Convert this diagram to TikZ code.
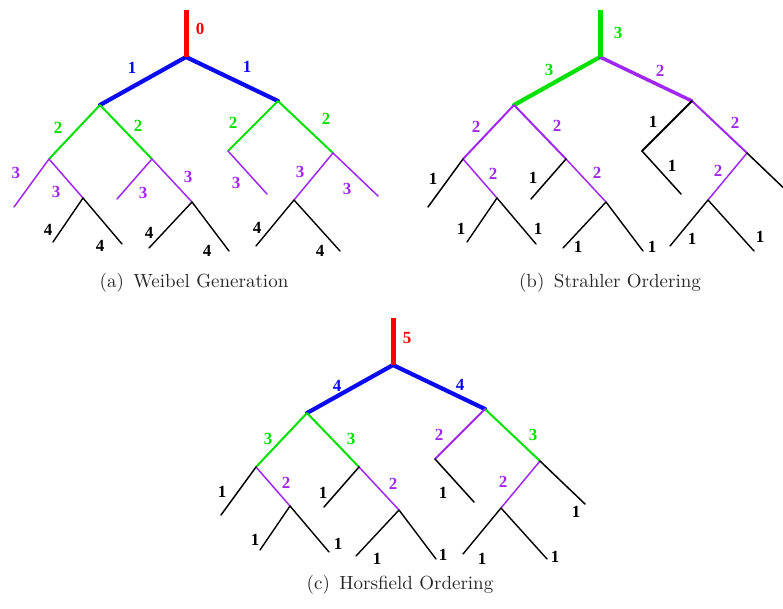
\documentclass[tikz,border=0pt]{standalone}
\usepackage{fontspec}
\newfontfamily\labelfont{Liberation Serif}
\definecolor{tred}{RGB}{255,0,0}
\definecolor{tblue}{RGB}{10,10,240}
\definecolor{tgreen}{RGB}{0,225,0}
\definecolor{tpurple}{RGB}{160,40,240}
\tikzset{
  lv0/.style={line width=5pt},
  lv1/.style={line width=4.2pt, line cap=round},
  lv2/.style={line width=2pt, line cap=round},
  lv3/.style={line width=1.5pt, line cap=round},
  lv4/.style={line width=1.4pt, line cap=round},
  num/.style={font=\labelfont\bfseries\fontsize{17}{17}\selectfont, inner sep=0pt},
  caption/.style={scale=1.9, text=black!85, inner sep=0pt},
}
% branch points of one airway tree; #1 = name prefix, (#2,#3) = offset
\newcommand\treepoints[3]{%
  \begin{scope}[shift={(#2,#3)}]
    \coordinate (#1T) at (186,10);
    \coordinate (#1J) at (186,57);
    \coordinate (#1L) at (100,105);
    \coordinate (#1R) at (278,101);
    \coordinate (#1LL) at (49,159);
    \coordinate (#1LR) at (152,159);
    \coordinate (#1RL) at (228,151);
    \coordinate (#1RR) at (333,153);
    \coordinate (#1LLL) at (14,207);
    \coordinate (#1LLR) at (83,198);
    \coordinate (#1LLRa) at (53,242);
    \coordinate (#1LLRb) at (122,244);
    \coordinate (#1LRL) at (117,199);
    \coordinate (#1LRR) at (192,202);
    \coordinate (#1LRRa) at (149,248);
    \coordinate (#1LRRb) at (229,251);
    \coordinate (#1RLc) at (267,194);
    \coordinate (#1RRL) at (294,200);
    \coordinate (#1RRR) at (378,196);
    \coordinate (#1RRLa) at (256,246);
    \coordinate (#1RRLb) at (340,251);
  \end{scope}}
\begin{document}
\begin{tikzpicture}[x=1pt,y=-1pt]
\useasboundingbox (0,0) rectangle (783,608);
\clip (0,0) rectangle (783,608);

% ---------- (a) Weibel generation ----------
\treepoints{a}{0}{0}
\draw[lv1,tblue] (aJ) -- (aL) (aJ) -- (aR);
\draw[lv0,tred] (aT) -- (aJ);
\draw[lv2,tgreen] (aL) -- (aLL) (aL) -- (aLR) (aR) -- (aRL) (aR) -- (aRR);
\draw[lv3,tpurple] (aLL) -- (aLLL) (aLL) -- (aLLR) (aLR) -- (aLRL) (aLR) -- (aLRR)
  (aRL) -- (aRLc) (aRR) -- (aRRL) (aRR) -- (aRRR);
\draw[lv4,black] (aLLR) -- (aLLRa) (aLLR) -- (aLLRb) (aLRR) -- (aLRRa) (aLRR) -- (aLRRb)
  (aRRL) -- (aRRLa) (aRRL) -- (aRRLb);
\node[num,tred] (a0) at (200,29) {0};
\node[num,tblue] (a1l) at (132,68) {1};
\node[num,tblue] (a1r) at (247,67) {1};
\node[num,tgreen] (a2a) at (58,128) {2};
\node[num,tgreen] (a2b) at (138,126) {2};
\node[num,tgreen] (a2c) at (233,123) {2};
\node[num,tgreen] (a2d) at (326,119) {2};
\node[num,tpurple] (a3a) at (16,173) {3};
\node[num,tpurple] (a3b) at (56,192) {3};
\node[num,tpurple] (a3c) at (143,193) {3};
\node[num,tpurple] (a3d) at (188,177) {3};
\node[num,tpurple] (a3e) at (236,183) {3};
\node[num,tpurple] (a3f) at (300,172) {3};
\node[num,tpurple] (a3g) at (347,189) {3};
\node[num] (a4a) at (48,230) {4};
\node[num] (a4b) at (100,246) {4};
\node[num] (a4c) at (149,233) {4};
\node[num] (a4d) at (207,251) {4};
\node[num] (a4e) at (257,228) {4};
\node[num] (a4f) at (320,251) {4};
\node[caption] (capa) at (194,283) {(a)\enspace Weibel Generation};

% ---------- (b) Strahler ordering ----------
\treepoints{b}{414}{0}
\draw[lv1,tgreen] (bJ) -- (bL);
\draw[lv1,tpurple,line width=3.5pt] (bJ) -- (bR);
\draw[lv0,tgreen] (bT) -- (bJ);
\draw[lv2,tpurple] (bL) -- (bLL) (bL) -- (bLR) (bR) -- (bRR);
\draw[lv2,black] (bR) -- (bRL);
\draw[lv3,tpurple] (bLL) -- (bLLR) (bLR) -- (bLRR) (bRR) -- (bRRL);
\draw[lv3,black] (bLL) -- (bLLL) (bLR) -- (bLRL) (bRL) -- (bRLc) (bRR) -- (bRRR);
\draw[lv4,black] (bLLR) -- (bLLRa) (bLLR) -- (bLLRb) (bLRR) -- (bLRRa) (bLRR) -- (bLRRb)
  (bRRL) -- (bRRLa) (bRRL) -- (bRRLb);
\node[num,tgreen] (b3t) at (618,33) {3};
\node[num,tgreen] (b3l) at (549,70) {3};
\node[num,tpurple] (b2r) at (660,71) {2};
\node[num,tpurple] (b2a) at (476,127) {2};
\node[num,tpurple] (b2b) at (557,126) {2};
\node[num] (b1a) at (653,122) {1};
\node[num,tpurple] (b2c) at (735,123) {2};
\node[num] (b1b) at (433,179) {1};
\node[num,tpurple] (b2d) at (493,174) {2};
\node[num] (b1c) at (533,178) {1};
\node[num,tpurple] (b2e) at (597,173) {2};
\node[num] (b1d) at (672,166) {1};
\node[num,tpurple] (b2f) at (718,171) {2};
\node[num] (b1e) at (461,229) {1};
\node[num] (b1f) at (538,229) {1};
\node[num] (b1g) at (578,247) {1};
\node[num] (b1h) at (652,247) {1};
\node[num] (b1i) at (692,239) {1};
\node[num] (b1j) at (760,237) {1};
\node[caption] (capb) at (610,283) {(b)\enspace Strahler Ordering};

% ---------- (c) Horsfield ordering ----------
\treepoints{c}{207}{308}
\draw[lv1,tblue] (cJ) -- (cL) (cJ) -- (cR);
\draw[lv0,tred] (cT) -- (cJ);
\draw[lv2,tgreen] (cL) -- (cLL) (cL) -- (cLR) (cR) -- (cRR);
\draw[lv2,tpurple] (cR) -- (cRL);
\draw[lv3,tpurple] (cLL) -- (cLLR) (cLR) -- (cLRR) (cRR) -- (cRRL);
\draw[lv3,black] (cLL) -- (cLLL) (cLR) -- (cLRL) (cRL) -- (cRLc) (cRR) -- (cRRR);
\draw[lv4,black] (cLLR) -- (cLLRa) (cLLR) -- (cLLRb) (cLRR) -- (cLRRa) (cLRR) -- (cLRRb)
  (cRRL) -- (cRRLa) (cRRL) -- (cRRLb);
\node[num,tred] (c5) at (407,338) {5};
\node[num,tblue] (c4l) at (337,386) {4};
\node[num,tblue] (c4r) at (460,385) {4};
\node[num,tgreen] (c3a) at (268,439) {3};
\node[num,tgreen] (c3b) at (351,439) {3};
\node[num,tpurple] (c2a) at (439,435) {2};
\node[num,tgreen] (c3c) at (533,435) {3};
\node[num] (c1a) at (222,492) {1};
\node[num,tpurple] (c2b) at (286,483) {2};
\node[num] (c1b) at (323,493) {1};
\node[num,tpurple] (c2c) at (393,484) {2};
\node[num] (c1c) at (443,493) {1};
\node[num,tpurple] (c2d) at (503,482) {2};
\node[num] (c1d) at (576,512) {1};
\node[num] (c1e) at (255,540) {1};
\node[num] (c1f) at (338,544) {1};
\node[num] (c1g) at (377,559) {1};
\node[num] (c1h) at (443,555) {1};
\node[num] (c1i) at (482,559) {1};
\node[num] (c1j) at (555,557) {1};
\node[caption] (capc) at (400,585) {(c)\enspace Horsfield Ordering};
\end{tikzpicture}
\end{document}
